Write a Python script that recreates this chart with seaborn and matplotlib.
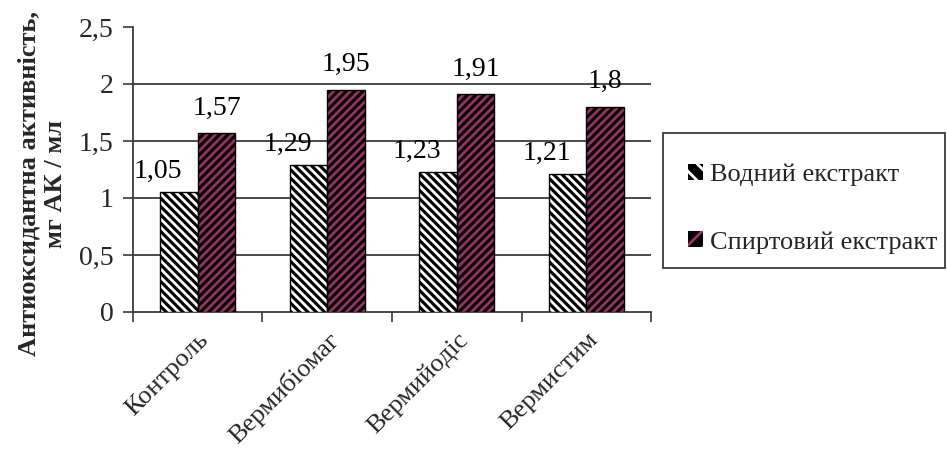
import matplotlib
matplotlib.use("Agg")
import matplotlib.pyplot as plt
from matplotlib.patches import Patch, Rectangle
from matplotlib.ticker import FixedLocator
import seaborn as sns
import pandas as pd

# Data
categories = ["Контроль", "Вермибіомаг", "Вермийодіс", "Вермистим"]
water_extract = [1.05, 1.29, 1.23, 1.21]
alcohol_extract = [1.57, 1.95, 1.91, 1.80]
series_names = ["Водний екстракт", "Спиртовий екстракт"]
y_ticks = [0, 0.5, 1, 1.5, 2, 2.5]
y_tick_labels = ["0", "0,5", "1", "1,5", "2", "2,5"]
y_label = "Антиоксидантна активність,\nмг АК / мл"

df = pd.DataFrame({
    "category": categories * 2,
    "value": water_extract + alcohol_extract,
    "series": [series_names[0]] * 4 + [series_names[1]] * 4,
})

sns.set_style("white")
plt.rcParams["font.family"] = ["Liberation Serif", "DejaVu Serif"]
plt.rcParams["hatch.linewidth"] = 2.0

STRIPE = {series_names[0]: ("white", "\\\\\\\\"), series_names[1]: ("#993366", "////")}
GRID = "#3a3a3a"
FS = 20

fig = plt.figure(figsize=(9.47, 4.5), dpi=100)
ax = fig.add_axes([0.1404, 0.3067, 0.5471, 0.6333])

sns.barplot(data=df, x="category", y="value", hue="series", hue_order=series_names,
            palette=["black", "black"], width=0.58, dodge=True, legend=False,
            errorbar=None, ax=ax, zorder=3)

ax.set_ylim(0, 2.5)
ax.set_xlim(-0.5, len(categories) - 0.5)

# Black bars with coloured diagonal stripes and a thin black outline
for name, container in zip(series_names, ax.containers):
    stripe_color, hatch = STRIPE[name]
    for bar in container:
        bar.set_facecolor("black")
        bar.set_edgecolor(stripe_color)
        bar.set_linewidth(0)
        bar.set_hatch(hatch)
        ax.add_patch(Rectangle(bar.get_xy(), bar.get_width(), bar.get_height(),
                               fill=False, edgecolor="black", linewidth=1.0, zorder=4))

# Value labels (comma decimal separator)
for i, (name, container) in enumerate(zip(series_names, ax.containers)):
    for bar in container:
        v = bar.get_height()
        txt = f"{v:g}".replace(".", ",")
        dx = -15 if i == 0 else 0
        dy = 15 if i == 0 else 18
        ax.annotate(txt, (bar.get_x() + bar.get_width() / 2, v),
                    xytext=(dx, dy), textcoords="offset points",
                    ha="center", va="center", fontsize=FS, color="black", zorder=5)

# Gridlines
for y in y_ticks[1:-1]:
    ax.axhline(y, color=GRID, linewidth=1.3, zorder=1)

ax.set_yticks(y_ticks)
ax.set_yticklabels(y_tick_labels, fontsize=FS)
ax.tick_params(axis="y", direction="out", length=7, width=1.2, color=GRID, pad=7, left=True)

ax.set_xticks(range(len(categories)))
ax.set_xticklabels(categories, rotation=45, ha="right", rotation_mode="anchor", fontsize=19)
ax.tick_params(axis="x", which="major", length=0, pad=12)
ax.xaxis.set_minor_locator(FixedLocator([-0.5, 0.5, 1.5, 2.5, 3.5]))
ax.tick_params(axis="x", which="minor", direction="out", length=7, width=1.2, color=GRID, bottom=True)

for side in ("top", "right"):
    ax.spines[side].set_visible(False)
for side in ("left", "bottom"):
    ax.spines[side].set_color(GRID)
    ax.spines[side].set_linewidth(1.3)

ax.set_xlabel("")
ax.set_ylabel(y_label, fontsize=19, fontweight="bold", linespacing=1.2)
ax.yaxis.set_label_coords(-0.128, 0.45)

# Legend: frameless entries inside a square-cornered box
handles = [Patch(facecolor="black", edgecolor=STRIPE[n][0], hatch=STRIPE[n][1][:2], linewidth=0)
           for n in series_names]
fig.legend(handles, series_names, loc="upper left", bbox_to_anchor=(0.7265, 0.636),
           bbox_transform=fig.transFigure, fontsize=19, frameon=False,
           borderaxespad=0, borderpad=0, handlelength=0.55, handleheight=0.55,
           handletextpad=0.3, labelspacing=1.7)
fig.add_artist(Rectangle((0.7001, 0.4044), 0.2978, 0.300, transform=fig.transFigure,
                         fill=False, edgecolor=GRID, linewidth=1.3))

fig.savefig("out.png", dpi=100, facecolor="white")
